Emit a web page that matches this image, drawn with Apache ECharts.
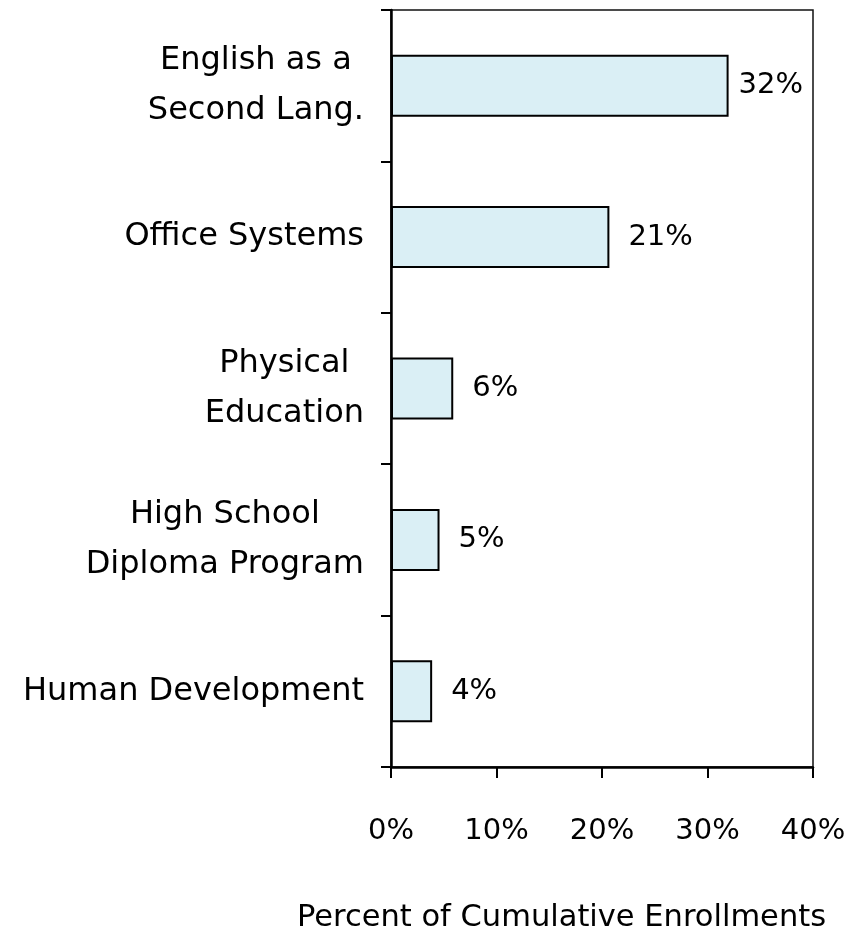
<!DOCTYPE html>
<html>
<head>
<meta charset="utf-8">
<script src="https://cdn.jsdelivr.net/npm/echarts@6/dist/echarts.min.js"></script>
<style>
  html, body { margin: 0; padding: 0; background: #fff; }
  #chart { width: 865px; height: 938px; }
</style>
</head>
<body>
<div id="chart"></div>
<script>
// programmes, top to bottom
const programs = [
  'English as a\nSecond Lang.',
  'Office Systems',
  'Physical\nEducation',
  'High School\nDiploma Program',
  'Human Development'
];
// share of cumulative enrollments (%)
const shares = [32.0, 20.7, 5.9, 4.6, 3.9];
const xTicks = [0, 10, 20, 30, 40];
const axisTitle = 'Percent of Cumulative Enrollments';

const FONT = 'DejaVu Sans';

const chart = echarts.init(document.getElementById('chart'));

const option = {
  backgroundColor: '#fff',
  animation: false,
  textStyle: { fontFamily: FONT },
  // axis title sits a little left of the plot centre in the original
  title: {
    text: axisTitle,
    left: 297, top: 903, padding: 0,
    textStyle: { fontFamily: FONT, fontSize: 30.5, fontWeight: 'normal', color: '#000' }
  },
  grid: {
    left: 391, right: 52, top: 10, bottom: 171,
    show: true, borderColor: '#111', borderWidth: 1.5
  },
  xAxis: {
    type: 'value',
    min: xTicks[0],
    max: xTicks[xTicks.length - 1],
    interval: 10,
    axisLine: { show: true, lineStyle: { color: '#000', width: 2.5 } },
    axisTick: { show: true, length: 11, lineStyle: { color: '#000', width: 2 } },
    axisLabel: {
      margin: 50, fontFamily: FONT, fontSize: 29, color: '#000',
      formatter: v => v + '%'
    },
    splitLine: { show: false }
  },
  yAxis: {
    type: 'category',
    data: programs,
    inverse: true,
    axisLine: { show: true, lineStyle: { color: '#000', width: 2.5 } },
    axisTick: { show: true, length: 10, lineStyle: { color: '#000', width: 2 } },
    axisLabel: {
      margin: 27,
      fontFamily: FONT, fontSize: 32, color: '#000',
      lineHeight: 50,
      formatter: v => v.split('\n').map(s => '{c|' + s + '}').join('\n'),
      rich: { c: { align: 'center', fontFamily: FONT, fontSize: 32, lineHeight: 50, color: '#000' } }
    }
  },
  series: [{
    type: 'bar',
    data: shares.map((v, i) => ({
      value: v,
      label: { distance: i === 0 ? 10 : 19 }
    })),
    barWidth: 62,
    itemStyle: { color: '#daeff5', borderColor: '#000', borderWidth: 2 },
    label: {
      show: true,
      position: 'right',
      fontFamily: FONT, fontSize: 29, color: '#000',
      formatter: p => Math.round(p.value) + '%'
    }
  }]
};

chart.setOption(option);
</script>
</body>
</html>
